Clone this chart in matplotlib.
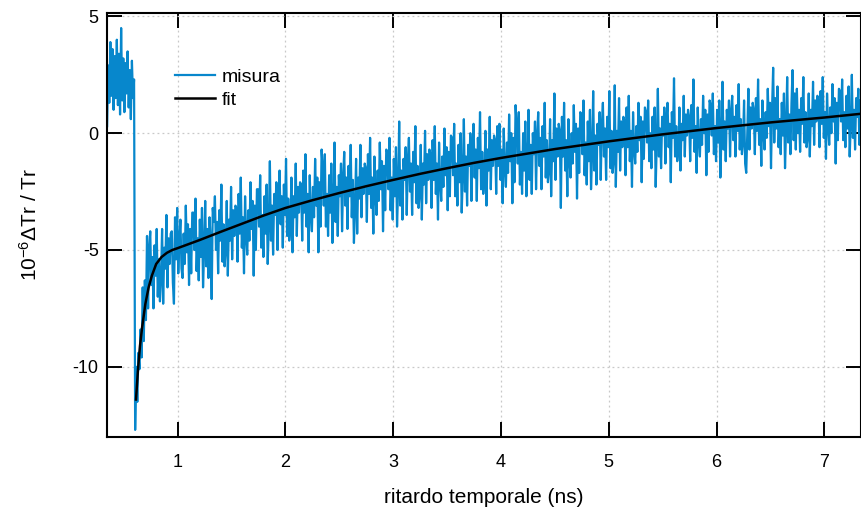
import numpy as np
import matplotlib.pyplot as plt

plt.rcParams['font.family'] = ['Liberation Sans', 'DejaVu Sans']
plt.rcParams['mathtext.fontset'] = 'custom'
plt.rcParams['mathtext.rm'] = 'Liberation Sans'
plt.rcParams['axes.unicode_minus'] = False

# misura, campionata ogni 0.01 ns a partire da 0.345 ns
t_start, t_step = 0.345, 0.01

# prima dello zero temporale
pre = [0.3, 2.9, 1.3, 3.9, 1.6, 3.6, 1.0, 3.3, 1.5, 4.0, 1.2, 3.4, 0.8,
       4.5, 1.4, 3.2, 0.9, 3.0, 1.7, 3.5, 1.1, 2.7, 0.6, 3.1, 1.5, 2.3]

# salita rapida
rise = [-12.7, -10.0, -11.5, -9.4, -10.1, -8.4, -9.6, -6.6, -8.9, -6.3,
        -8.0, -4.4, -7.5, -4.9]

# coda lenta (una riga = 0.1 ns)
tail = [
    -4.2, -6.5, -5.3, -7.5, -4.8, -6.1, -4.1, -7.0, -5.4, -7.2,
    -6.2, -4.1, -7.3, -4.9, -5.8, -3.5, -6.6, -4.5, -5.6, -4.3,
    -4.2, -6.4, -7.3, -3.6, -5.4, -3.2, -6.0, -4.6, -3.7, -5.8,
    -6.2, -4.3, -5.6, -3.1, -5.1, -3.9, -6.5, -4.1, -6.0, -3.4,
    -3.4, -5.0, -2.8, -5.9, -4.5, -6.3, -3.7, -5.3, -3.2, -6.6,
    -5.0, -2.9, -5.7, -4.1, -6.2, -3.6, -4.6, -7.1, -3.2, -3.8,
    -2.7, -5.0, -3.8, -6.0, -3.3, -4.6, -2.2, -5.5, -3.9, -5.7,
    -5.0, -2.9, -6.1, -3.7, -4.6, -2.3, -5.4, -3.3, -4.4, -3.1,
    -3.2, -5.5, -2.6, -4.3, -1.9, -4.9, -3.6, -6.0, -2.7, -4.4,
    -5.2, -3.3, -4.6, -2.1, -4.1, -2.9, -6.1, -3.1, -5.0, -2.4,
    -2.4, -4.0, -1.8, -4.9, -3.5, -5.3, -2.7, -4.3, -2.2, -5.6,
    -3.9, -1.2, -4.6, -3.1, -5.2, -2.6, -3.5, -2.1, -5.0, -2.7,
    -1.6, -3.9, -2.7, -4.9, -2.2, -3.5, -1.1, -4.4, -2.8, -4.6,
    -4.0, -1.9, -5.1, -2.7, -3.6, -1.3, -4.4, -2.3, -3.4, -2.1,
    -2.2, -4.6, -1.6, -3.4, -0.9, -4.0, -2.6, -5.1, -1.8, -3.5,
    -4.2, -2.3, -3.6, -1.1, -3.1, -1.9, -5.1, -2.1, -4.0, -0.7,
    -1.5, -3.1, -0.9, -4.0, -2.6, -4.4, -1.8, -3.4, -1.3, -4.7,
    -3.1, -0.4, -3.8, -2.3, -4.4, -1.8, -2.7, -1.3, -4.2, -1.9,
    -0.8, -3.1, -1.9, -4.1, -1.4, -2.7, -0.5, -3.6, -2.0, -4.7,
    -3.2, -1.1, -4.3, -1.9, -2.8, -0.5, -3.6, -1.5, -2.6, -1.3,
    -1.5, -3.8, -0.9, -2.6, -0.2, -3.2, -1.9, -4.3, -1.0, -2.7,
    -3.5, -1.6, -2.9, -0.4, -2.4, -1.2, -4.2, -1.4, -3.3, -0.7,
    -0.8, -2.4, -0.2, -3.3, -1.9, -3.7, -1.1, -2.7, -0.6, -4.0,
    -2.4, 0.5, -3.1, -1.6, -3.7, -1.1, -2.0, -0.6, -3.5, -1.2,
    -0.2, -2.5, -1.3, -3.5, -0.8, -2.1, 0.3, -3.0, -1.4, -3.2,
    -2.6, -0.5, -3.7, -1.3, -2.2, 0.1, -3.0, -0.9, -2.0, -0.7,
    -0.9, -3.2, -0.3, -2.0, 0.3, -2.6, -1.3, -3.7, -0.4, -2.1,
    -2.9, -1.0, -2.3, 0.2, -1.8, -0.6, -3.3, -0.8, -2.7, -0.1,
    -0.2, -1.8, 0.4, -2.7, -1.3, -3.1, -0.5, -2.1, 0.0, -3.4,
    -1.8, 0.6, -2.5, -1.0, -3.1, -0.5, -1.4, 0.0, -2.9, -0.6,
    0.4, -1.9, -0.7, -2.9, -0.2, -1.5, 0.9, -2.4, -0.8, -2.6,
    -2.0, 0.1, -3.1, -0.7, -1.6, 0.7, -2.4, -0.3, -1.4, -0.1,
    -0.3, -2.6, 0.3, -1.4, 0.4, -2.0, -0.7, -3.0, 0.2, -1.5,
    -2.3, -0.4, -1.7, 0.8, -1.2, 0.0, -3.0, -0.2, -2.1, 1.2,
    0.3, -1.3, 0.9, -2.2, -0.8, -2.6, 0.0, -1.6, 0.5, -2.7,
    -1.3, 1.0, -2.0, -0.5, -2.6, 0.0, -0.9, 0.5, -2.4, -0.1,
    0.9, -1.4, -0.2, -2.4, 0.3, -1.0, 1.3, -1.9, -0.3, -2.1,
    -1.6, 0.6, -2.7, -0.3, -1.2, 1.7, -2.0, 0.2, -1.0, 0.4,
    0.1, -3.2, 0.7, -1.0, 1.3, -1.6, -0.3, -2.7, 0.6, -1.1,
    -1.9, 0.0, -1.3, 1.2, -0.8, 0.4, -2.8, 0.2, -1.7, 0.9,
    0.8, -0.9, 1.4, -1.8, -0.4, -2.2, 0.5, -1.2, 1.0, -2.4,
    -0.9, 1.8, -1.6, -0.1, -2.2, 0.4, -0.5, 0.9, -2.0, 0.3,
    1.3, -1.0, 0.2, -2.0, 0.7, -0.6, 1.8, -1.5, 0.1, -1.7,
    -1.2, 2.05, -2.3, 0.1, -0.8, 1.5, -1.6, 0.5, -0.6, 0.7,
    0.5, -1.8, 1.1, -0.6, 1.6, -1.2, 0.1, -2.3, 0.9, -0.7,
    -1.3, 0.3, -0.8, 1.3, -0.3, 0.7, -2.1, 0.5, -1.1, 1.1,
    0.9, -0.4, 1.4, -1.2, 0.0, -1.5, 0.7, -0.7, 1.1, -2.3,
    -0.4, 1.9, -1.0, 0.2, -1.5, 0.7, -0.1, 1.1, -1.3, 0.6,
    1.3, -0.6, 0.4, -2.1, 0.9, -0.2, 2.35, -1.0, 0.3, -1.2,
    -0.7, 1.1, -1.6, 0.4, -0.3, 1.6, -1.0, 0.8, -0.1, 1.0,
    0.7, -1.2, 1.2, -0.2, 2.3, -0.8, 0.3, -1.7, 1.1, -0.3,
    -1.0, 0.6, -0.5, 1.6, 0.0, 1.0, -1.8, 0.8, -0.8, 1.4,
    1.2, -0.1, 1.7, -0.9, 0.3, -1.2, 1.0, -0.4, 1.4, -1.9,
    -0.1, 2.2, -0.7, 0.5, -1.2, 1.0, 0.2, 1.4, -1.0, 0.9,
    1.6, -0.3, 0.7, -1.0, 1.2, 0.1, 2.1, -0.7, 0.6, -0.9,
    -0.4, 1.4, -1.3, -1.7, 0.0, 1.9, -0.7, 1.1, 0.2, 1.3,
    1.0, -0.9, 1.5, 0.1, 2.3, -0.5, 0.6, -1.4, 1.4, 0.0,
    -0.7, 0.9, -0.2, 1.9, 0.3, 1.3, -1.5, 1.1, 2.8, -0.4,
    1.5, 0.2, 2.0, -0.6, 0.6, -0.9, 1.3, -0.1, 1.7, -1.5,
    0.2, 2.4, -0.4, 0.8, -0.9, 1.3, 2.7, -0.3, 1.7, -0.7,
    1.9, 0.0, 1.0, -0.8, 1.5, 0.4, 2.4, -0.4, 0.9, -0.6,
    -0.2, 1.7, -1.0, 1.0, 0.3, 2.2, -0.5, 1.4, 0.5, 1.6,
    1.3, -0.6, 1.8, 0.4, 2.4, -0.2, 0.9, -1.1, 1.7, 0.3,
    -0.5, 1.1, 0.0, 2.1, 0.5, 1.5, -1.3, 1.3, -0.3, 1.9,
    1.8, 0.5, 2.3, -0.3, 0.9, -0.6, 1.6, 0.2, 2.0, -1.0,
    0.4, 2.5, -0.2, 1.0, -0.7, 1.5, 0.7, 1.9, -0.5, 1.4,
]

# fit
t_fit = [0.613, 0.63, 0.65, 0.67, 0.70, 0.73, 0.76, 0.80, 0.85, 0.90, 0.95,
         1.0, 1.1, 1.2, 1.3, 1.4, 1.6, 1.8, 2.0, 2.25, 2.5, 2.75, 3.0, 3.25,
         3.5, 3.75, 4.0, 4.5, 5.0, 5.5, 6.0, 6.5, 7.0, 7.34]
y_fit = [-11.4, -10.2, -9.1, -8.3, -7.3, -6.6, -6.1, -5.6, -5.3, -5.12, -5.0,
         -4.92, -4.75, -4.58, -4.4, -4.22, -3.87, -3.52, -3.2, -2.87, -2.56,
         -2.27, -2.0, -1.74, -1.5, -1.27, -1.06, -0.68, -0.35, -0.05, 0.22,
         0.46, 0.67, 0.83]

x_ticks = [1, 2, 3, 4, 5, 6, 7]
y_ticks = [-10, -5, 0, 5]

y_meas = np.concatenate([pre, rise, tail])
t_meas = t_start + t_step * np.arange(len(y_meas))

fig = plt.figure(figsize=(8.61, 5.14), dpi=100)
ax = fig.add_axes([0.1243, 0.15, 0.8757, 0.825])

ax.plot(t_meas, y_meas, color='#0787cc', lw=1.6, label='misura')
ax.plot(t_fit, y_fit, color='black', lw=1.8, label='fit')

ax.set_xlim(0.344, 7.34)
ax.set_ylim(-13, 5.15)
ax.set_xticks(x_ticks)
ax.set_yticks(y_ticks)
ax.grid(True, color='#c8c8c8', ls=(0, (1.5, 2.5)), lw=0.9)
ax.tick_params(direction='in', length=10.5, width=1.4, top=True, right=True,
               labelsize=13)
ax.tick_params(axis='x', pad=12)
ax.tick_params(axis='y', pad=6)
for s in ax.spines.values():
    s.set_linewidth(1.5)

ax.set_xlabel('ritardo temporale (ns)', fontsize=15)
ax.xaxis.set_label_coords(0.5, -0.12)
ax.set_ylabel(r'$\mathregular{10^{-6}}$$\Delta$Tr / Tr', fontsize=15)
ax.yaxis.set_label_coords(-0.088, 0.5)

ax.legend(loc='upper left', bbox_to_anchor=(0.09, 0.87), frameon=False,
          handlelength=2.06, handletextpad=0.36, labelspacing=0.3,
          borderpad=0, borderaxespad=0, fontsize=14)

fig.savefig('out.png', dpi=100)
